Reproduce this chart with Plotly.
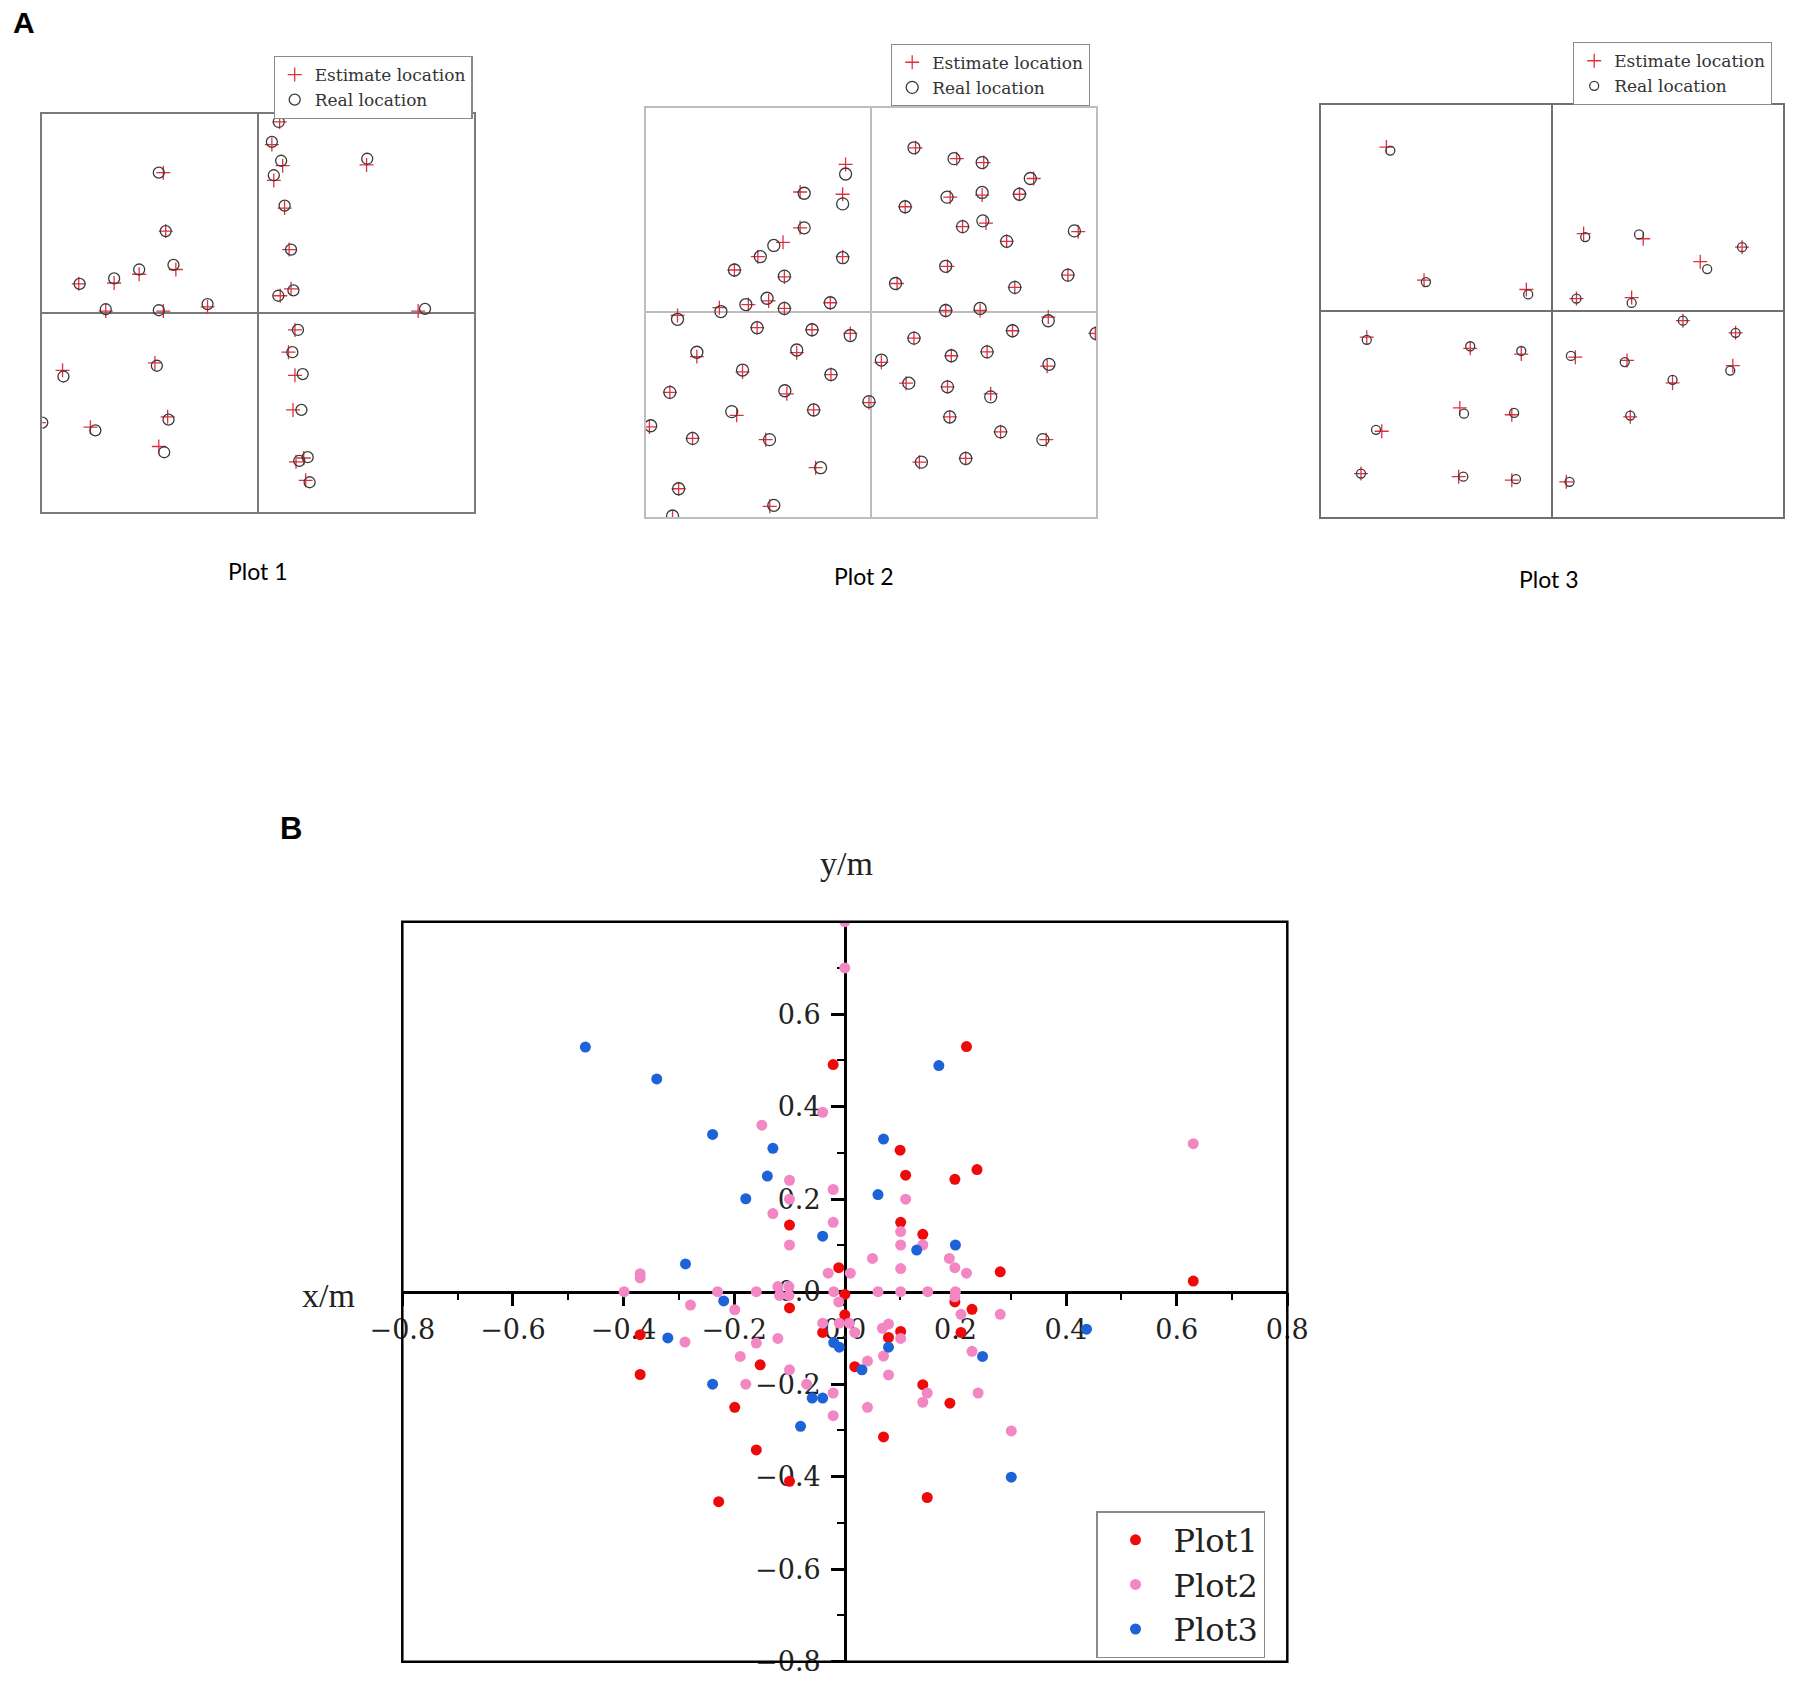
import plotly.graph_objects as go

# ---------------- Panel A data (normalized plot units, box = [-1, 1]) ----------------
p1_real_x = [0.096, 0.064, 0.107, 0.073, 0.506, -0.460, 0.123, -0.428, 0.153, -0.392, -0.551, -0.667,
             -0.827, 0.164, 0.094, -0.234, -0.706, -0.460, 0.774, 0.185, 0.159, 0.207, -0.902, -0.469,
             0.201, -0.415, -1.000, -0.754, -0.435, 0.230, 0.191, 0.239]
p1_real_y = [0.959, 0.859, 0.764, 0.691, 0.774, 0.704, 0.538, 0.410, 0.317, 0.240, 0.217, 0.172,
             0.145, 0.112, 0.085, 0.043, 0.017, 0.012, 0.019, -0.087, -0.199, -0.309, -0.321, -0.267,
             -0.489, -0.538, -0.553, -0.592, -0.702, -0.727, -0.745, -0.853]
p1_est_x = [0.100, 0.064, 0.114, 0.073, 0.503, -0.439, 0.123, -0.428, 0.144, -0.381, -0.551, -0.667,
            -0.831, 0.153, 0.103, -0.234, -0.706, -0.439, 0.742, 0.171, 0.141, 0.171, -0.906, -0.478,
            0.162, -0.419, -1.015, -0.777, -0.460, 0.212, 0.176, 0.221]
p1_est_y = [0.959, 0.845, 0.739, 0.665, 0.743, 0.704, 0.526, 0.410, 0.317, 0.217, 0.193, 0.149,
            0.145, 0.120, 0.085, 0.029, 0.008, 0.008, 0.008, -0.087, -0.199, -0.315, -0.290, -0.253,
            -0.489, -0.524, -0.553, -0.576, -0.673, -0.731, -0.750, -0.843]

p2_real_x = [0.191, 0.369, 0.494, 0.708, -0.113, -0.297, -0.126, 0.152, 0.338, 0.494, 0.660, 0.407,
             0.497, 0.904, -0.297, -0.432, -0.492, 0.603, -0.126, -0.607, -0.385, 0.332, 0.875, 0.109,
             0.639, -0.462, -0.556, -0.385, -0.181, -0.667, -0.860, 0.332, 0.485, 0.788, -0.506, -0.262,
             -0.092, 0.629, 1.000, 0.191, -0.774, -0.330, 0.516, 0.357, 0.046, 0.791, -0.571, -0.178,
             -0.894, -0.383, 0.168, 0.340, 0.532, -0.009, -0.619, -0.255, 0.350, -0.979, -0.793, -0.451,
             0.576, 0.764, -0.224, 0.224, 0.421, -0.855, -0.432, -0.882]
p2_real_y = [0.804, 0.751, 0.732, 0.654, 0.676, 0.582, 0.530, 0.516, 0.563, 0.586, 0.577, 0.419,
             0.447, 0.398, 0.413, 0.327, 0.272, 0.347, 0.267, 0.207, 0.177, 0.225, 0.182, 0.141,
             0.122, 0.069, 0.038, 0.019, 0.047, 0.004, -0.034, 0.009, 0.019, -0.041, -0.075, -0.085,
             -0.113, -0.090, -0.103, -0.126, -0.195, -0.184, -0.193, -0.212, -0.233, -0.254, -0.282, -0.304,
             -0.391, -0.383, -0.346, -0.364, -0.413, -0.436, -0.485, -0.477, -0.511, -0.554, -0.616, -0.622,
             -0.584, -0.622, -0.759, -0.732, -0.714, -0.862, -0.943, -0.995]
p2_est_x = [0.198, 0.381, 0.501, 0.723, -0.113, -0.315, -0.126, 0.152, 0.352, 0.494, 0.660, 0.407,
            0.511, 0.921, -0.315, -0.391, -0.503, 0.603, -0.126, -0.607, -0.385, 0.340, 0.875, 0.116,
            0.639, -0.455, -0.545, -0.385, -0.181, -0.674, -0.860, 0.332, 0.485, 0.788, -0.506, -0.262,
            -0.092, 0.629, 0.997, 0.191, -0.774, -0.330, 0.516, 0.357, 0.046, 0.783, -0.571, -0.178,
            -0.894, -0.374, 0.156, 0.340, 0.532, -0.009, -0.597, -0.255, 0.350, -0.985, -0.793, -0.468,
            0.576, 0.779, -0.246, 0.215, 0.421, -0.855, -0.450, -0.882]
p2_est_y = [0.804, 0.751, 0.732, 0.654, 0.723, 0.588, 0.577, 0.516, 0.563, 0.573, 0.577, 0.419,
            0.436, 0.394, 0.413, 0.342, 0.272, 0.347, 0.272, 0.207, 0.173, 0.225, 0.182, 0.141,
            0.122, 0.056, 0.038, 0.019, 0.047, 0.023, -0.015, 0.009, 0.009, -0.023, -0.075, -0.085,
            -0.103, -0.090, -0.103, -0.126, -0.216, -0.197, -0.193, -0.212, -0.244, -0.263, -0.291, -0.304,
            -0.391, -0.398, -0.346, -0.364, -0.398, -0.441, -0.503, -0.477, -0.511, -0.560, -0.616, -0.622,
            -0.584, -0.622, -0.759, -0.732, -0.714, -0.862, -0.948, -1.005]

p3_real_x = [-0.699, 0.145, 0.378, 0.824, 0.673, -0.545, -0.102, 0.107, 0.346, 0.568, 0.796, -0.801,
             -0.353, -0.132, 0.083, 0.316, 0.773, 0.523, -0.380, -0.163, 0.340, -0.761, -0.826, -0.383,
             -0.155, 0.077]
p3_real_y = [0.777, 0.358, 0.371, 0.309, 0.203, 0.140, 0.080, 0.060, 0.039, -0.047, -0.106, -0.140,
             -0.171, -0.194, -0.218, -0.248, -0.289, -0.334, -0.498, -0.494, -0.507, -0.576, -0.788, -0.803,
             -0.815, -0.828]
p3_est_x = [-0.716, 0.138, 0.396, 0.824, 0.643, -0.553, -0.110, 0.107, 0.346, 0.568, 0.796, -0.801,
            -0.353, -0.132, 0.102, 0.326, 0.784, 0.523, -0.398, -0.173, 0.340, -0.736, -0.826, -0.403,
            -0.173, 0.063]
p3_est_y = [0.794, 0.375, 0.350, 0.309, 0.239, 0.149, 0.104, 0.060, 0.065, -0.047, -0.106, -0.127,
            -0.181, -0.209, -0.224, -0.240, -0.265, -0.349, -0.470, -0.503, -0.513, -0.583, -0.788, -0.803,
            -0.820, -0.828]

# ---------------- Panel B data (metres) ----------------
b1_x = [-0.021, 0.220, 0.100, 0.239, 0.110, 0.199, -0.100, 0.101, 0.141, -0.011, 0.281, 0.630, 0.000,
        0.199, -0.100, 0.230, 0.000, -0.040, 0.101, 0.079, 0.210, -0.370, -0.153, 0.018, -0.370, 0.141,
        -0.199, 0.190, 0.070, -0.160, -0.100, 0.149, -0.228]
b1_y = [0.491, 0.530, 0.306, 0.264, 0.252, 0.243, 0.144, 0.150, 0.124, 0.052, 0.043, 0.023, -0.006,
        -0.022, -0.035, -0.038, -0.050, -0.088, -0.086, -0.099, -0.088, -0.093, -0.158, -0.162, -0.179, -0.201,
        -0.250, -0.241, -0.314, -0.342, -0.410, -0.445, -0.454]

b2_x = [0.000, 0.000, -0.040, -0.150, 0.630, -0.100, -0.021, -0.100, 0.110, -0.130, -0.021, 0.101,
        -0.100, 0.101, 0.141, 0.050, 0.189, 0.199, 0.220, -0.030, 0.010, 0.101, -0.370, -0.370,
        -0.399, -0.230, -0.160, -0.121, -0.101, -0.118, -0.101, -0.020, 0.060, 0.101, 0.150, 0.200,
        0.199, -0.011, -0.279, -0.199, 0.210, 0.281, -0.040, -0.010, 0.008, 0.018, 0.068, 0.079,
        0.101, -0.121, -0.289, -0.160, -0.189, 0.230, 0.041, 0.070, -0.100, 0.079, -0.179, -0.069,
        0.149, -0.021, 0.241, 0.141, 0.041, -0.021, 0.301]
b2_y = [0.800, 0.700, 0.388, 0.360, 0.320, 0.241, 0.221, 0.200, 0.200, 0.169, 0.150, 0.130,
        0.101, 0.101, 0.101, 0.072, 0.072, 0.052, 0.040, 0.040, 0.040, 0.050, 0.039, 0.030,
        0.000, 0.000, 0.000, 0.011, 0.011, -0.008, -0.008, 0.000, 0.000, 0.000, 0.000, 0.000,
        -0.011, -0.022, -0.029, -0.039, -0.049, -0.049, -0.068, -0.068, -0.068, -0.088, -0.079, -0.070,
        -0.101, -0.101, -0.109, -0.111, -0.140, -0.129, -0.150, -0.139, -0.169, -0.180, -0.200, -0.200,
        -0.219, -0.219, -0.219, -0.239, -0.250, -0.268, -0.301]

b3_x = [-0.469, -0.340, -0.239, 0.170, -0.130, 0.070, -0.140, 0.060, -0.179, -0.040, 0.130, 0.200,
        -0.288, -0.219, -0.320, -0.020, -0.010, 0.079, 0.249, 0.031, -0.239, -0.059, -0.040, -0.080,
        0.301, 0.437]
b3_y = [0.529, 0.460, 0.340, 0.489, 0.310, 0.330, 0.250, 0.210, 0.201, 0.120, 0.090, 0.101,
        0.060, -0.020, -0.100, -0.110, -0.120, -0.120, -0.140, -0.169, -0.200, -0.230, -0.230, -0.291,
        -0.401, -0.081]

b_tick_vals = [-0.8, -0.6, -0.4, -0.2, 0.0, 0.2, 0.4, 0.6, 0.8]
b_tick_text = ["\u22120.8", "\u22120.6", "\u22120.4", "\u22120.2", "0.0", "0.2", "0.4", "0.6", "0.8"]
b_ytick_vals = [-0.8, -0.6, -0.4, -0.2, 0.0, 0.2, 0.4, 0.6]
b_ytick_text = ["\u22120.8", "\u22120.6", "\u22120.4", "\u22120.2", "0.0", "0.2", "0.4", "0.6"]
b_minor_vals = [-0.7, -0.5, -0.3, -0.1, 0.1, 0.3, 0.5, 0.7]

W, H = 1804, 1689

def px_x(v):
    return v / W

def px_y(v):
    return 1 - v / H

EST_RED = "#e0303c"
REAL_GRAY = "#3a3a3a"
LEG_FONT = dict(family="DejaVu Serif", size=17, color="#333333")

fig = go.Figure()

panelA = [
    (p1_real_x, p1_real_y, p1_est_x, p1_est_y, "x", "y", "legend2", 11),
    (p2_real_x, p2_real_y, p2_est_x, p2_est_y, "x2", "y2", "legend3", 12),
    (p3_real_x, p3_real_y, p3_est_x, p3_est_y, "x3", "y3", "legend4", 9),
]
for rx, ry, ex, ey, xa, ya, lg, csize in panelA:
    fig.add_trace(go.Scatter(
        x=ex, y=ey, mode="markers", name="Estimate location", xaxis=xa, yaxis=ya, legend=lg,
        marker=dict(symbol="cross-thin", size=10, color=EST_RED, line=dict(width=1.3, color=EST_RED)),
    ))
    fig.add_trace(go.Scatter(
        x=rx, y=ry, mode="markers", name="Real location", xaxis=xa, yaxis=ya, legend=lg,
        marker=dict(symbol="circle-open", size=csize, color=REAL_GRAY, line=dict(width=1.3)),
    ))

for xs, ys, nm, col in [(b1_x, b1_y, "Plot1", "#ee0a0a"),
                        (b2_x, b2_y, "Plot2", "#f387c4"),
                        (b3_x, b3_y, "Plot3", "#1d63d8")]:
    fig.add_trace(go.Scatter(
        x=xs, y=ys, mode="markers", name=nm, xaxis="x4", yaxis="y4", legend="legend",
        marker=dict(size=11, color=col),
    ))

def small_axes(dom, color):
    return dict(domain=dom, range=[-1, 1], showgrid=False, zeroline=True, zerolinecolor=color,
                zerolinewidth=1.5, showline=True, mirror=True, linecolor=color, linewidth=1.5,
                showticklabels=False, ticks="", fixedrange=True)

c1 = "#7a7a7a"
c2 = "#bdbdbd"
c3 = "#707070"

layout = dict(
    width=W, height=H, margin=dict(l=0, r=0, t=0, b=0, autoexpand=False),
    paper_bgcolor="white", plot_bgcolor="white", showlegend=True,
    xaxis=dict(**small_axes([px_x(42.3), px_x(473.8)], c1), anchor="y"),
    yaxis=dict(**small_axes([px_y(511.5), px_y(113.8)], c1), anchor="x"),
    xaxis2=dict(**small_axes([px_x(646), px_x(1096)], c2), anchor="y2"),
    yaxis2=dict(**small_axes([px_y(517), px_y(107.7)], c2), anchor="x2"),
    xaxis3=dict(**small_axes([px_x(1320.8), px_x(1782.7)], c3), anchor="y3"),
    yaxis3=dict(**small_axes([px_y(517.3), px_y(104.6)], c3), anchor="x3"),
)

bx0, bx1 = px_x(402.3), px_x(1287.3)
by0, by1 = px_y(1661.7), px_y(921.7)
tickfont = dict(family="DejaVu Serif", size=27, color="#222222")
layout["xaxis4"] = dict(
    domain=[bx0, bx1], range=[-0.8, 0.8], anchor="free", position=(by0 + by1) / 2,
    showgrid=False, zeroline=False, showline=True, linecolor="black", linewidth=2.5,
    ticks="outside", ticklen=13, tickwidth=2.5, tickcolor="black",
    tickmode="array", tickvals=b_tick_vals, ticktext=b_tick_text, tickfont=tickfont,
    ticklabelstandoff=0, layer="below traces",
    minor=dict(tickvals=b_minor_vals, ticks="outside", ticklen=7, tickwidth=2, tickcolor="black"),
)
layout["yaxis4"] = dict(
    domain=[by0, by1], range=[-0.8, 0.8], anchor="free", position=(bx0 + bx1) / 2,
    showgrid=False, zeroline=False, showline=True, linecolor="black", linewidth=2.5,
    ticks="outside", ticklen=13, tickwidth=2.5, tickcolor="black",
    tickmode="array", tickvals=b_ytick_vals, ticktext=b_ytick_text, tickfont=tickfont,
    ticklabelstandoff=5, layer="below traces",
    minor=dict(tickvals=b_minor_vals, ticks="outside", ticklen=7, tickwidth=2, tickcolor="black"),
)

layout["legend"] = dict(
    x=px_x(1096), y=px_y(1511), xanchor="left", yanchor="top",
    bgcolor="white", bordercolor="#8a8a8a", borderwidth=1.5,
    font=dict(family="DejaVu Serif", size=32, color="#222222"),
    itemwidth=66, tracegroupgap=0,
)
for key, lx, ly in [("legend2", 273.5, 55.8), ("legend3", 891, 43.5), ("legend4", 1573, 42)]:
    layout[key] = dict(
        x=px_x(lx), y=px_y(ly), xanchor="left", yanchor="top",
        bgcolor="white", bordercolor="#8a8a8a", borderwidth=1.2,
        font=LEG_FONT, itemwidth=30, tracegroupgap=0,
    )

fig.update_layout(**layout)

# Frame of panel B
fig.add_shape(type="rect", xref="x4 domain", yref="y4 domain", x0=0, x1=1, y0=0, y1=1,
              line=dict(color="black", width=2.5), layer="above")

ann = [
    dict(text="<b>A</b>", x=px_x(24), y=px_y(22), font=dict(family="Liberation Sans", size=30, color="black")),
    dict(text="<b>B</b>", x=px_x(291), y=px_y(828), font=dict(family="Liberation Sans", size=31, color="black")),
    dict(text="Plot 1", x=px_x(257), y=px_y(571), font=dict(family="Lato", size=23, color="black")),
    dict(text="Plot 2", x=px_x(863), y=px_y(576), font=dict(family="Lato", size=23, color="black")),
    dict(text="Plot 3", x=px_x(1548), y=px_y(579), font=dict(family="Lato", size=23, color="black")),
    dict(text="y/m", x=px_x(846), y=px_y(863), font=dict(family="Liberation Serif", size=34, color="#222222")),
    dict(text="x/m", x=px_x(328), y=px_y(1295), font=dict(family="Liberation Serif", size=34, color="#222222")),
]
for a in ann:
    fig.add_annotation(xref="paper", yref="paper", showarrow=False, xanchor="center", yanchor="middle", **a)

fig.write_html("out.html", config={"displayModeBar": False},
               post_script="document.body.style.margin='0px';document.body.style.overflow='hidden';")
